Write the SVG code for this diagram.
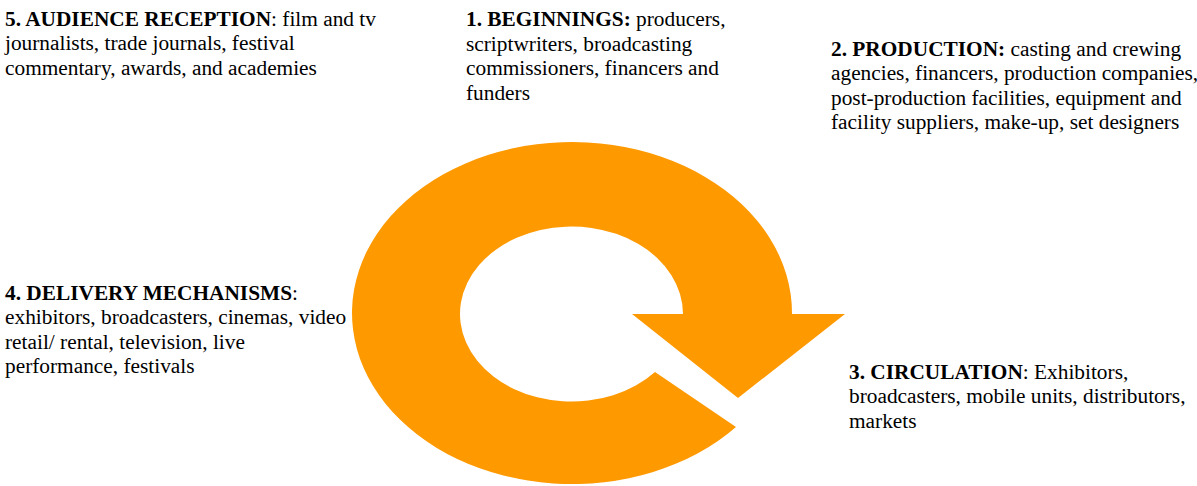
<svg xmlns="http://www.w3.org/2000/svg" width="1197" height="486" viewBox="0 0 1197 486">
<style>
  .t { font-family: "Liberation Serif", "Times New Roman", serif; font-size: 21.33px; fill: #000; }
  .b { font-weight: bold; }
  .arrow { fill: #FF9900; stroke: none; }
</style>
<rect width="1197" height="486" fill="#fff"/>
<g id="connectors">
  <path class="arrow" d="M 632 314 L 683 314 A 111.5 87.5 0 1 0 655 372 L 736 427 A 220 171 0 1 1 792 314 L 845 314 L 738 398 Z"/>
</g>
<g id="node-1-beginnings">
  <text class="t" x="466" y="26">
    <tspan class="b">1. BEGINNINGS:</tspan> producers,</text>
  <text class="t" x="466" y="50.5">scriptwriters, broadcasting</text>
  <text class="t" x="466" y="75">commissioners, financers and</text>
  <text class="t" x="466" y="99.5">funders</text>
</g>
<g id="node-2-production">
  <text class="t" x="831" y="55.5"><tspan class="b">2. PRODUCTION:</tspan> casting and crewing</text>
  <text class="t" x="831" y="80">agencies, financers, production companies,</text>
  <text class="t" x="831" y="104.5">post-production facilities, equipment and</text>
  <text class="t" x="831" y="129">facility suppliers, make-up, set designers</text>
</g>
<g id="node-3-circulation">
  <text class="t" x="849" y="378.5"><tspan class="b">3. CIRCULATION</tspan>: Exhibitors,</text>
  <text class="t" x="849" y="403">broadcasters, mobile units, distributors,</text>
  <text class="t" x="849" y="427.5">markets</text>
</g>
<g id="node-4-delivery">
  <text class="t" x="5" y="300"><tspan class="b">4. DELIVERY MECHANISMS</tspan>:</text>
  <text class="t" x="5" y="324.4">exhibitors, broadcasters, cinemas, video</text>
  <text class="t" x="5" y="348.8">retail/ rental, television, live</text>
  <text class="t" x="5" y="373.2">performance, festivals</text>
</g>
<g id="node-5-audience">
  <text class="t" x="5" y="26"><tspan class="b">5. AUDIENCE RECEPTION</tspan>: film and tv</text>
  <text class="t" x="5" y="50.4">journalists, trade journals, festival</text>
  <text class="t" x="5" y="74.8">commentary, awards, and academies</text>
</g>
</svg>
